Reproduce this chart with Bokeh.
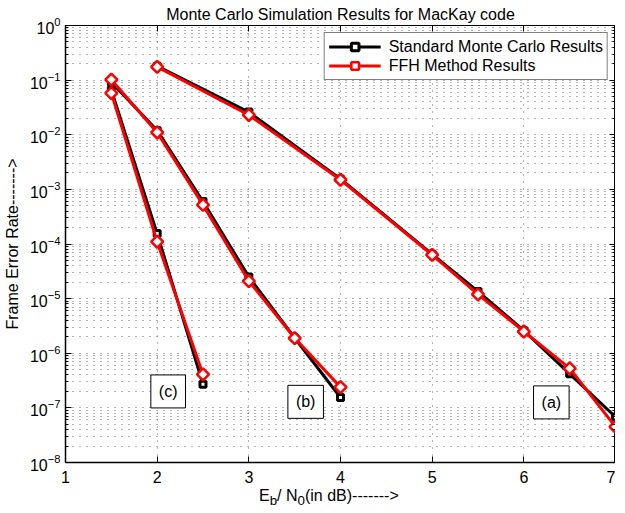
import numpy as np
from bokeh.plotting import figure
from bokeh.layouts import column
from bokeh.models import (FixedTicker, LogAxis, LinearAxis, Label, Legend, Div,
                          CustomJSTickFormatter)
from bokeh.embed import file_html
from bokeh.resources import INLINE

# ---- data ----
x_a = [2, 3, 4, 5, 5.5, 6, 6.5, 7]
mc_a = [0.18, 0.026, 1.55e-3, 6.5e-5, 1.35e-5, 2.6e-6, 4.2e-7, 6.8e-8]
ffh_a = [0.175, 0.023, 1.5e-3, 6.3e-5, 1.2e-5, 2.5e-6, 5.3e-7, 4.5e-8]

x_b = [1.5, 2, 2.5, 3, 3.5, 4]
mc_b = [0.092, 0.012, 6.0e-4, 2.5e-5, 1.9e-6, 1.55e-7]
ffh_b = [0.102, 0.011, 5.2e-4, 2.1e-5, 1.9e-6, 2.4e-7]

x_c = [1.5, 2, 2.5]
mc_c = [0.066, 1.55e-4, 2.7e-7]
ffh_c = [0.058, 1.1e-4, 4.1e-7]

x_ticks = [1, 2, 3, 4, 5, 6, 7]
y_decades = [-8, -7, -6, -5, -4, -3, -2, -1, 0]

curve_labels = ["(a)", "(b)", "(c)"]
curve_label_x = [6.3, 3.62, 2.12]
curve_label_y = [1.26e-7, 1.29e-7, 2.0e-7]

title_text = "Monte Carlo Simulation Results for MacKay code"
legend_mc = "Standard Monte Carlo Results"
legend_ffh = "FFH Method Results"
ylabel = "Frame Error Rate------->"
xlabel_html = "E<sub>b</sub>/ N<sub>0</sub>(in dB)------->"

FONT = "Liberation Sans"

p = figure(frame_width=550, frame_height=437, y_axis_type="log",
           x_range=(1, 7), y_range=(1e-8, 1),
           output_backend="svg", toolbar_location=None,
           min_border_left=57, min_border_right=0,
           min_border_top=0, min_border_bottom=26,
           background_fill_color="white", border_fill_color="white")

p.title.text = title_text
p.title.align = "center"
p.title.text_font = FONT
p.title.text_font_size = "16px"
p.title.text_font_style = "normal"
p.title.text_color = "black"
p.title.standoff = 6
p.title.offset = 0

p.outline_line_color = "black"
p.outline_line_width = 1
p.outline_line_alpha = 1

# ticks
yt_major = [10.0 ** d for d in y_decades]
yt_minor = [m * 10.0 ** d for d in y_decades[:-1] for m in range(2, 10)]
p.xaxis.ticker = FixedTicker(ticks=x_ticks)
p.yaxis.ticker = FixedTicker(ticks=yt_major, minor_ticks=yt_minor)

for ax in (p.xaxis[0], p.yaxis[0]):
    ax.major_label_text_font = FONT
    ax.major_label_text_font_size = "16px"
    ax.major_tick_in = 6
    ax.major_tick_out = 0
    ax.minor_tick_in = 3
    ax.minor_tick_out = 0
    ax.axis_line_color = "black"
    ax.axis_line_width = 1.5
    ax.major_tick_line_color = "black"
    ax.minor_tick_line_color = "black"
    ax.major_label_text_color = "black"

p.xaxis.minor_tick_line_color = None
p.xaxis.major_label_standoff = 8
p.yaxis.major_label_standoff = 5
p.yaxis.axis_label = ylabel
p.yaxis.axis_label_text_font = FONT
p.yaxis.axis_label_text_font_size = "16px"
p.yaxis.axis_label_text_font_style = "normal"
p.yaxis.axis_label_text_color = "black"
p.yaxis.axis_label_standoff = 6

# mirrored axes (top/right): ticks only
top = LinearAxis(ticker=FixedTicker(ticks=x_ticks),
                 formatter=CustomJSTickFormatter(code="return ''"),
                 major_label_standoff=0, major_tick_in=6, major_tick_out=0,
                 minor_tick_line_color=None, axis_line_color="black",
                 major_tick_line_color="black")
right = LogAxis(ticker=FixedTicker(ticks=yt_major, minor_ticks=yt_minor),
                formatter=CustomJSTickFormatter(code="return ''"),
                major_label_standoff=0, major_tick_in=6, major_tick_out=0,
                minor_tick_in=3, minor_tick_out=0, axis_line_color="black",
                major_tick_line_color="black", minor_tick_line_color="black")
p.add_layout(top, "above")
p.add_layout(right, "right")

# grids
gcol = "#444444"
p.xgrid.ticker = FixedTicker(ticks=x_ticks)
p.xgrid.grid_line_color = gcol
p.xgrid.grid_line_dash = "1 6"
p.xgrid.grid_line_alpha = 0.8
p.ygrid.grid_line_color = gcol
p.ygrid.grid_line_dash = "1 6"
p.ygrid.grid_line_alpha = 0.8
p.ygrid.minor_grid_line_color = gcol
p.ygrid.minor_grid_line_dash = "1 6"
p.ygrid.minor_grid_line_alpha = 0.8

# data renderers
mc_items = []
ffh_items = []
for xs, ys in ((x_a, mc_a), (x_b, mc_b), (x_c, mc_c)):
    l = p.line(xs, ys, line_color="black", line_width=3)
    s = p.scatter(xs, ys, marker="square", size=6, line_color="black",
                  line_width=3, fill_color="white")
    mc_items += [l, s]
for xs, ys in ((x_a, ffh_a), (x_b, ffh_b), (x_c, ffh_c)):
    l = p.line(xs, ys, line_color="red", line_width=3)
    s = p.scatter(xs, ys, marker="square", angle=np.pi / 4, size=8.5,
                  line_color="red", line_width=2.5, fill_color="white")
    ffh_items += [l, s]

legend = Legend(items=[(legend_mc, mc_items[:2]), (legend_ffh, ffh_items[:2])],
                location="top_right", padding=4, spacing=0, margin=7,
                label_height=19, glyph_width=52, glyph_height=19,
                label_standoff=8, label_text_font=FONT, label_text_font_size="16px",
                label_text_color="black",
                border_line_color="black", border_line_width=1,
                background_fill_alpha=1, background_fill_color="white")
p.add_layout(legend, "center")

# curve labels in boxes
for t, cx, cy in zip(curve_labels, curve_label_x, curve_label_y):
    p.add_layout(Label(x=cx, y=cy, text=t, text_align="center", text_baseline="middle",
                       text_font=FONT, text_font_size="16px", text_color="black",
                       border_line_color="black", border_line_width=1,
                       background_fill_color="white", padding=8))

# x axis label (with subscripts) as HTML text below the plot
xdiv = Div(text='<span style="position:relative; top:-3px; font-family:\'Liberation Sans\'; '
                'font-size:16px; color:black; white-space:nowrap;">' + xlabel_html + '</span>',
           width=200, height=16, margin=(0, 0, 0, 259))

layout = column(p, xdiv, spacing=0)
open("out.html", "w").write(file_html(layout, INLINE))
